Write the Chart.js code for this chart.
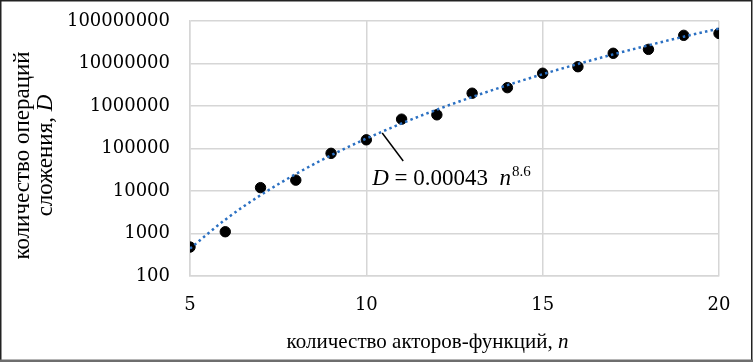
<!DOCTYPE html>
<html>
<head>
<meta charset="utf-8">
<script src="https://cdn.jsdelivr.net/npm/chart.js@4/dist/chart.umd.min.js"></script>
<style>
  html, body { margin: 0; padding: 0; background: #fff; }
  #wrap { width: 753px; height: 362px; }
</style>
</head>
<body>
<div id="wrap"><canvas id="chart"></canvas></div>
<script>
/* ─── data ────────────────────────────────────────────── */
const ACTORS = [5, 6, 7, 8, 9, 10, 11, 12, 13, 14, 15, 16, 17, 18, 19, 20];
const OPERATIONS = [480, 1100, 12000, 18000, 77000, 160000, 490000, 620000,
                    2000000, 2700000, 5900000, 8400000, 17400000, 21500000, 46000000, 51000000];
const TREND = [441, 2120, 7970, 25100, 69200, 171000, 389000, 821000,
               1630000, 3090000, 5600000, 9740000, 16400000, 26800000, 42800000, 66400000];
const X_TICKS = [5, 10, 15, 20];
const Y_TICKS = [100, 1000, 10000, 100000, 1000000, 10000000, 100000000];
const LABEL_ANCHOR = { n: 10.45, D: 232000 };

const SERIF = "'Liberation Serif', 'DejaVu Serif', serif";
const TICK_SERIF = "'DejaVu Serif', serif";
const GRID = '#d6d6d6';
const TREND_BLUE = '#2b70c2';

const toPoints = (xs, ys) => xs.map((x, i) => ({ x, y: ys[i] }));

// draws runs of [text, italic] centred on (cx, cy)
function drawRuns(ctx, runs, cx, cy, size) {
  const fonts = runs.map(([, it]) => `${it ? 'italic ' : ''}${size}px ${SERIF}`);
  let total = 0;
  const widths = runs.map(([t], i) => { ctx.font = fonts[i]; const w = ctx.measureText(t).width; total += w; return w; });
  let x = cx - total / 2;
  ctx.textBaseline = 'middle';
  ctx.textAlign = 'left';
  runs.forEach(([t], i) => { ctx.font = fonts[i]; ctx.fillText(t, x, cy); x += widths[i]; });
}

// white background, frame, axis titles, trend-line label with pointer
const decorPlugin = {
  id: 'decor',
  beforeDraw(chart) {
    const { ctx, width, height } = chart;
    ctx.save();
    ctx.fillStyle = '#fff';
    ctx.fillRect(0, 0, width, height);
    ctx.restore();
  },
  afterDraw(chart) {
    const { ctx, width, height, chartArea } = chart;
    const xs = chart.scales.x, ys = chart.scales.y;
    ctx.save();
    // frame
    ctx.strokeStyle = '#222';
    ctx.lineWidth = 1.5;
    ctx.beginPath();
    ctx.moveTo(0.75, height); ctx.lineTo(0.75, 0.75);
    ctx.lineTo(width - 1.25, 0.75); ctx.lineTo(width - 1.25, height);
    ctx.stroke();
    ctx.strokeStyle = '#6e6e6e';
    ctx.lineWidth = 2.5;
    ctx.beginPath();
    ctx.moveTo(0, height - 1.25); ctx.lineTo(width, height - 1.25);
    ctx.stroke();

    // axis titles
    ctx.fillStyle = '#000';
    const midX = (chartArea.left + chartArea.right) / 2 - 27;
    drawRuns(ctx, [['количество акторов-функций, ', false], ['n', true]], midX, chartArea.bottom + 66, 21);
    ctx.save();
    ctx.translate(0, (chartArea.top + chartArea.bottom) / 2 + 7);
    ctx.rotate(-Math.PI / 2);
    drawRuns(ctx, [['количество операций', false]], 0, 23, 23);
    drawRuns(ctx, [['сложения, ', false], ['D', true]], 0, 46, 23);
    ctx.restore();

    // pointer
    const ax = xs.getPixelForValue(LABEL_ANCHOR.n);
    const ay = ys.getPixelForValue(LABEL_ANCHOR.D);
    ctx.strokeStyle = '#000';
    ctx.lineWidth = 1.5;
    ctx.beginPath();
    ctx.moveTo(ax, ay);
    ctx.lineTo(ax + 21, ay + 28);
    ctx.stroke();

    // D = 0.00043  n^8.6
    let tx = ax - 10;
    const ty = ay + 52;
    ctx.textBaseline = 'alphabetic';
    ctx.textAlign = 'left';
    const part = (txt, font, dy = 0) => {
      ctx.font = font;
      ctx.fillText(txt, tx, ty + dy);
      tx += ctx.measureText(txt).width;
    };
    part('D', `italic 23px ${SERIF}`);
    part(' = 0.00043  ', `23px ${SERIF}`);
    part('n', `italic 23px ${SERIF}`);
    tx += 1;
    part('8.6', `15px ${SERIF}`, -9);
    ctx.restore();
  },
};

new Chart(document.getElementById('chart'), {
  type: 'scatter',
  data: {
    datasets: [
      {
        label: 'trend',
        type: 'line',
        data: toPoints(ACTORS, TREND),
        borderColor: TREND_BLUE,
        borderWidth: 2.5,
        borderDash: [2.5, 3.2],
        borderCapStyle: 'butt',
        cubicInterpolationMode: 'monotone',
        pointRadius: 0,
        fill: false,
      },
      {
        label: 'D',
        data: toPoints(ACTORS, OPERATIONS),
        backgroundColor: '#000',
        borderColor: '#000',
        pointRadius: 5.2,
        pointHoverRadius: 5.2,
      },
    ],
  },
  options: {
    responsive: true,
    maintainAspectRatio: false,
    animation: false,
    layout: { padding: { top: 21, right: 34, bottom: 0, left: 0 } },
    plugins: {
      legend: { display: false },
      tooltip: { enabled: false },
    },
    scales: {
      x: {
        type: 'linear',
        min: 5,
        max: 20,
        afterBuildTicks: (s) => { s.ticks = X_TICKS.map(v => ({ value: v })); },
        afterFit: (s) => { s.height = 86; s.paddingLeft = 0; s.paddingRight = 0; },
        grid: { color: GRID, lineWidth: 1.5, drawTicks: false },
        border: { color: GRID, width: 1.5 },
        ticks: {
          padding: 19,
          color: '#000',
          font: { family: TICK_SERIF, size: 18 },
        },
      },
      y: {
        type: 'logarithmic',
        min: 100,
        max: 100000000,
        afterBuildTicks: (s) => { s.ticks = Y_TICKS.map(v => ({ value: v })); },
        afterFit: (s) => { s.width = 190; s.paddingTop = 0; s.paddingBottom = 0; },
        grid: { color: GRID, lineWidth: 1.5, drawTicks: false },
        border: { color: GRID, width: 1.5 },
        ticks: {
          padding: 20,
          color: '#000',
          font: { family: TICK_SERIF, size: 18 },
          callback: (v) => String(v),
        },
      },
    },
  },
  plugins: [decorPlugin],
});
</script>
</body>
</html>
